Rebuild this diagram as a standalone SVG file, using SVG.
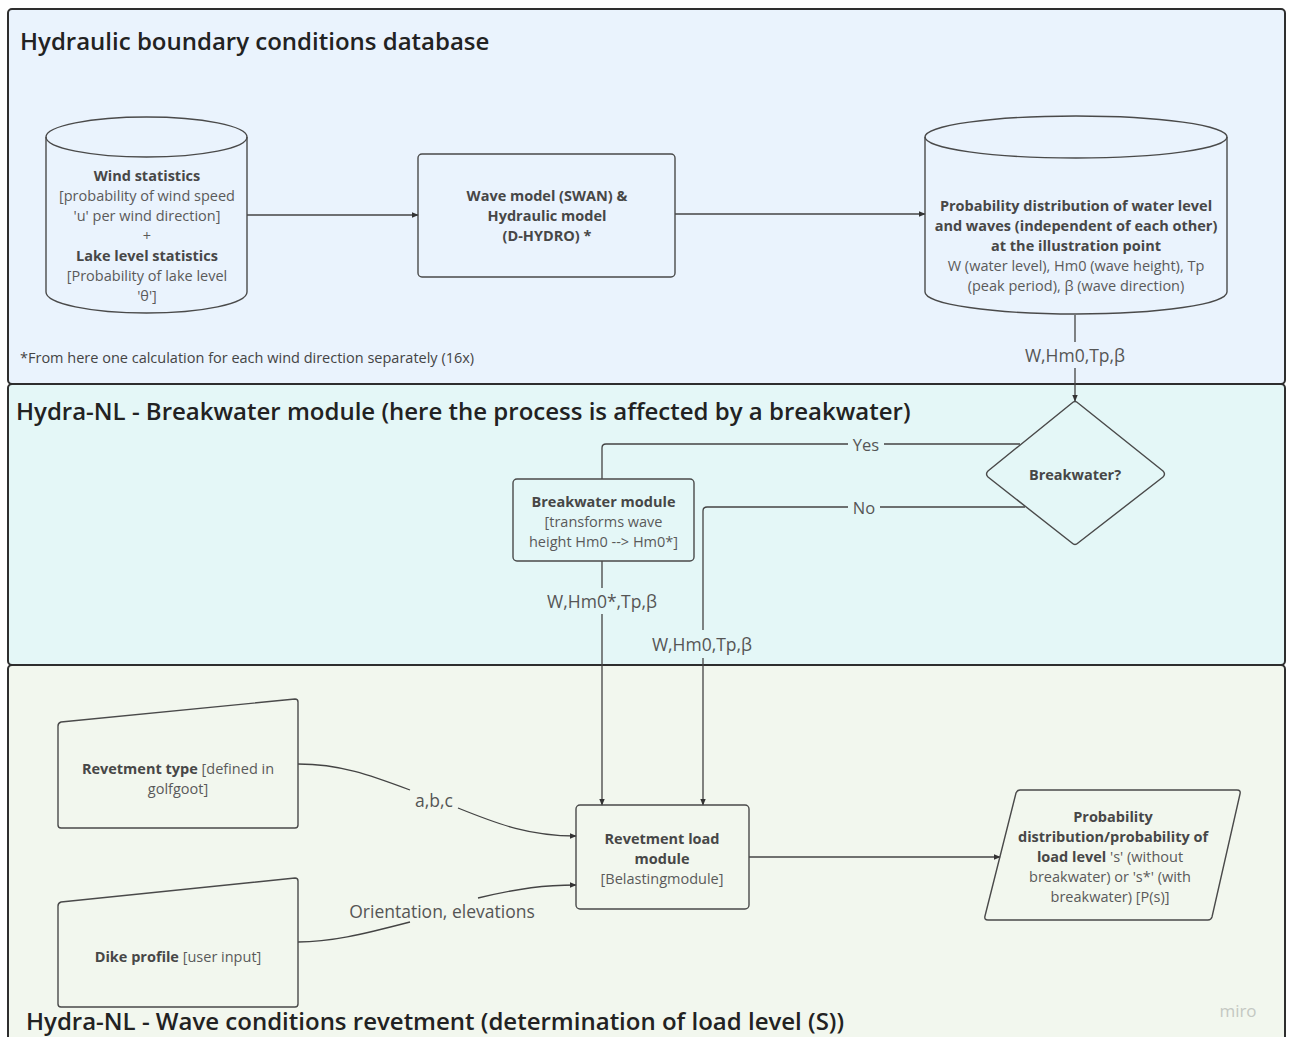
<svg xmlns="http://www.w3.org/2000/svg" width="1292" height="1037" viewBox="0 0 1292 1037">
<defs>
<style>
.frame{stroke:#2e2e2e;stroke-width:2}
.title{font-family:"Open Sans",sans-serif;font-weight:600;font-size:24px;fill:#222}
.node{fill:none;stroke:#4a4a4a;stroke-width:1.4}
.b{font-family:"Open Sans",sans-serif;font-weight:700;font-size:14.5px;fill:#474747}
.r{font-family:"Open Sans",sans-serif;font-weight:400;font-size:14.5px;fill:#5a5a5a}
.t{text-anchor:middle;dominant-baseline:central}
.edge{fill:none;stroke:#444;stroke-width:1.3}
.lbl{font-family:"Open Sans",sans-serif;font-size:17.5px;fill:#555;text-anchor:middle;dominant-baseline:central}
</style>
<marker id="arr" viewBox="0 0 10 10" refX="9" refY="5" markerWidth="7" markerHeight="7" orient="auto-start-reverse" markerUnits="userSpaceOnUse">
<path d="M0,1 L10,5 L0,9 Z" fill="#333"/>
</marker>
</defs>

<g id="frame-hbc">
<rect x="8" y="9" width="1277" height="375" rx="4" fill="#eaf3fd" class="frame"/>
<text class="title" x="20" y="50">Hydraulic boundary conditions database</text>
<text x="20" y="363" font-family="Open Sans, sans-serif" font-size="14.5" fill="#444">*From here one calculation for each wind direction separately (16x)</text>
</g>
<g id="frame-breakwater">
<rect x="8" y="384" width="1277" height="281" rx="4" fill="#e4f7f7" class="frame"/>
<text class="title" x="16" y="420">Hydra-NL - Breakwater module (here the process is affected by a breakwater)</text>
</g>
<g id="frame-revetment">
<rect x="8" y="665" width="1277" height="390" rx="4" fill="#f2f7ee" class="frame"/>
<text class="title" x="26" y="1030">Hydra-NL - Wave conditions revetment (determination of load level (S))</text>
<text x="1238" y="1010" font-family="Open Sans, sans-serif" font-size="17" fill="#c4c8c2" text-anchor="middle" dominant-baseline="central">miro</text>
</g>

<g id="connectors">
<path class="edge" d="M247,215 L418,215" marker-end="url(#arr)"/>
<path class="edge" d="M675,214 L925,214" marker-end="url(#arr)"/>
<path class="edge" d="M1075,315 L1075,342 M1075,368 L1075,401" marker-end="url(#arr)"/>
<path class="edge" d="M1020,444 L884,444 M848,444 L606,444 Q602,444 602,448 L602,479"/>
<path class="edge" d="M1025,507 L880,507 M848,507 L707,507 Q703,507 703,511 L703,630 M703,658 L703,805" marker-end="url(#arr)"/>
<path class="edge" d="M602,561 L602,588 M602,614 L602,805" marker-end="url(#arr)"/>
<path class="edge" d="M749,857 L1000,857" marker-end="url(#arr)"/>
<path class="edge" d="M298,764 C340,764 370,775 410,790 M458,808 C500,825 530,836 576,836" marker-end="url(#arr)"/>
<path class="edge" d="M298,942 C330,942 360,935 410,922 M478,898 C520,888 545,885 576,885" marker-end="url(#arr)"/>
<text class="lbl" x="1075" y="355">W,Hm0,Tp,β</text>
<text class="lbl" x="866" y="444" style="font-size:16.5px">Yes</text>
<text class="lbl" x="864" y="507" style="font-size:16.5px">No</text>
<text class="lbl" x="602" y="601">W,Hm0*,Tp,β</text>
<text class="lbl" x="702" y="644">W,Hm0,Tp,β</text>
<text class="lbl" x="434" y="800">a,b,c</text>
<text class="lbl" x="442" y="911">Orientation, elevations</text>
</g>

<g id="wind-statistics">
<path class="node" d="M46,137 L46,292 A100.5,21 0 0 0 247,292 L247,137"/>
<ellipse class="node" cx="146.5" cy="137" rx="100.5" ry="20"/>
<text class="b t" x="147" y="175">Wind statistics</text>
<text class="r t" x="147" y="195">[probability of wind speed</text>
<text class="r t" x="147" y="215">'u' per wind direction]</text>
<text class="r t" x="147" y="235">+</text>
<text class="b t" x="147" y="255">Lake level statistics</text>
<text class="r t" x="147" y="275">[Probability of lake level</text>
<text class="r t" x="147" y="295">'θ']</text>
</g>

<g id="wave-model">
<rect class="node" x="418" y="154" width="257" height="123" rx="4"/>
<text class="b t" x="547" y="195">Wave model (SWAN) &amp;</text>
<text class="b t" x="547" y="215">Hydraulic model</text>
<text class="b t" x="547" y="235">(D-HYDRO) *</text>
</g>

<g id="probability-distribution">
<path class="node" d="M925,137 L925,292 A151,22 0 0 0 1227,292 L1227,137"/>
<ellipse class="node" cx="1076" cy="137" rx="151" ry="21"/>
<text class="b t" x="1076" y="205">Probability distribution of water level</text>
<text class="b t" x="1076" y="225">and waves (independent of each other)</text>
<text class="b t" x="1076" y="245">at the illustration point</text>
<text class="r t" x="1076" y="265">W (water level), Hm0 (wave height), Tp</text>
<text class="r t" x="1076" y="285">(peak period), β (wave direction)</text>
</g>

<g id="breakwater-decision">
<path class="node" d="M1072,403 Q1075,400 1078,403 L1163,471 Q1166,474 1163,477 L1078,543 Q1075,546 1072,543 L988,477 Q985,474 988,471 Z"/>
<text class="b t" x="1075" y="474">Breakwater?</text>
</g>

<g id="breakwater-module">
<rect class="node" x="513" y="479" width="181" height="82" rx="4"/>
<text class="b t" x="603.5" y="501">Breakwater module</text>
<text class="r t" x="603.5" y="521">[transforms wave</text>
<text class="r t" x="603.5" y="541">height Hm0 --&gt; Hm0*]</text>
</g>

<g id="revetment-type">
<path class="node" d="M61,722 L295,699 Q298,699 298,702 L298,825 Q298,828 295,828 L61,828 Q58,828 58,825 L58,726 Q58,723 61,722 Z"/>
<text class="t" x="178" y="768"><tspan class="b">Revetment type</tspan><tspan class="r"> [defined in</tspan></text>
<text class="r t" x="178" y="788">golfgoot]</text>
</g>

<g id="dike-profile">
<path class="node" d="M61,902 L295,878 Q298,878 298,881 L298,1004 Q298,1007 295,1007 L61,1007 Q58,1007 58,1004 L58,906 Q58,903 61,902 Z"/>
<text class="t" x="178" y="956"><tspan class="b">Dike profile</tspan><tspan class="r"> [user input]</tspan></text>
</g>

<g id="revetment-load-module">
<rect class="node" x="576" y="805" width="173" height="104" rx="4"/>
<text class="b t" x="662" y="838">Revetment load</text>
<text class="b t" x="662" y="858">module</text>
<text class="r t" x="662" y="878">[Belastingmodule]</text>
</g>

<g id="load-level-output">
<path class="node" d="M1020,790 L1237,790 Q1241,790 1240,794 L1212,917 Q1211,920 1208,920 L988,920 Q984,920 985,916 L1016,793 Q1017,790 1020,790 Z"/>
<text class="b t" x="1113" y="816">Probability</text>
<text class="b t" x="1113" y="836">distribution/probability of</text>
<text class="t" x="1110" y="856"><tspan class="b">load level</tspan><tspan class="r"> 's' (without</tspan></text>
<text class="r t" x="1110" y="876">breakwater) or 's*' (with</text>
<text class="r t" x="1110" y="896">breakwater) [P(s)]</text>
</g>
</svg>
